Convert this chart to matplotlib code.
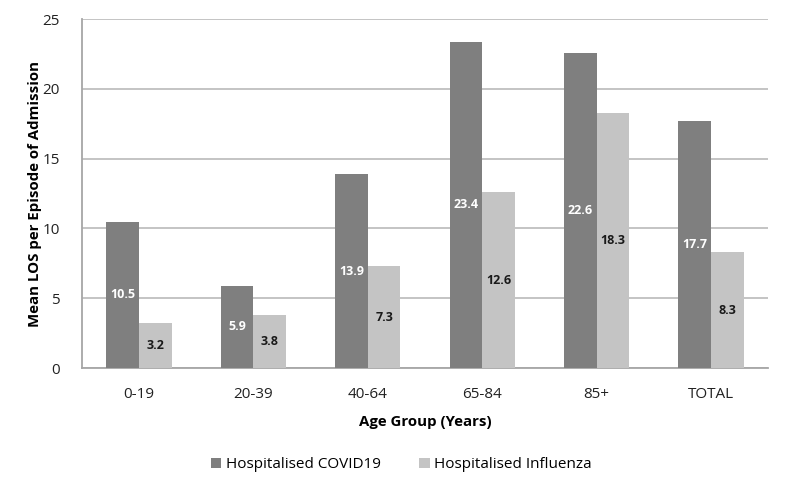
import numpy as np
import matplotlib.pyplot as plt

groups = ["0-19", "20-39", "40-64", "65-84", "85+", "TOTAL"]
covid = [10.5, 5.9, 13.9, 23.4, 22.6, 17.7]
flu = [3.2, 3.8, 7.3, 12.6, 18.3, 8.3]

plt.rcParams['font.family'] = ['Open Sans', 'DejaVu Sans']

fig = plt.figure(figsize=(7.87, 4.92), dpi=100)
ax = fig.add_axes([0.104, 0.252, 0.872, 0.709])

x = np.arange(len(groups))
w = 0.285
b1 = ax.bar(x - w/2, covid, w, color='#7f7f7f', label='Hospitalised COVID19', zorder=3)
b2 = ax.bar(x + w/2, flu, w, color='#c4c4c4', label='Hospitalised Influenza', zorder=3)

for rect, v in zip(b1, covid):
    ax.text(rect.get_x() + rect.get_width()/2, v/2, f"{v:.1f}", ha='center', va='center',
            color='white', fontsize=9, fontweight='bold', zorder=4)
for rect, v in zip(b2, flu):
    ax.text(rect.get_x() + rect.get_width()/2, v/2, f"{v:.1f}", ha='center', va='center',
            color='#1a1a1a', fontsize=9, fontweight='bold', zorder=4)

ax.set_xlim(-0.5, len(groups) - 0.5)
ax.set_ylim(0, 25)
ax.set_yticks([0, 5, 10, 15, 20, 25])
ax.set_xticks(x)
ax.set_xticklabels(groups)
ax.grid(axis='y', color='#bfbfbf', linewidth=1.3, zorder=0)
ax.tick_params(length=0, labelsize=11, colors='#222222')
ax.tick_params(axis='x', pad=14)
ax.tick_params(axis='y', pad=16)
for s in ['top', 'right']:
    ax.spines[s].set_visible(False)
for s in ['left', 'bottom']:
    ax.spines[s].set_color('#a6a6a6')
    ax.spines[s].set_linewidth(1.3)

ax.set_xlabel("Age Group (Years)", fontsize=10.8, fontweight='bold', labelpad=9)
ax.set_ylabel("Mean LOS per Episode of Admission", fontsize=10.8, fontweight='bold')
ax.yaxis.set_label_coords(-0.058, 0.5)

fig.legend(loc='center', bbox_to_anchor=(0.51, 0.055), ncol=2, frameon=False, fontsize=11,
           handlelength=0.7, handleheight=0.7, handletextpad=0.3, columnspacing=2.5)

plt.savefig("out.png", dpi=100)
